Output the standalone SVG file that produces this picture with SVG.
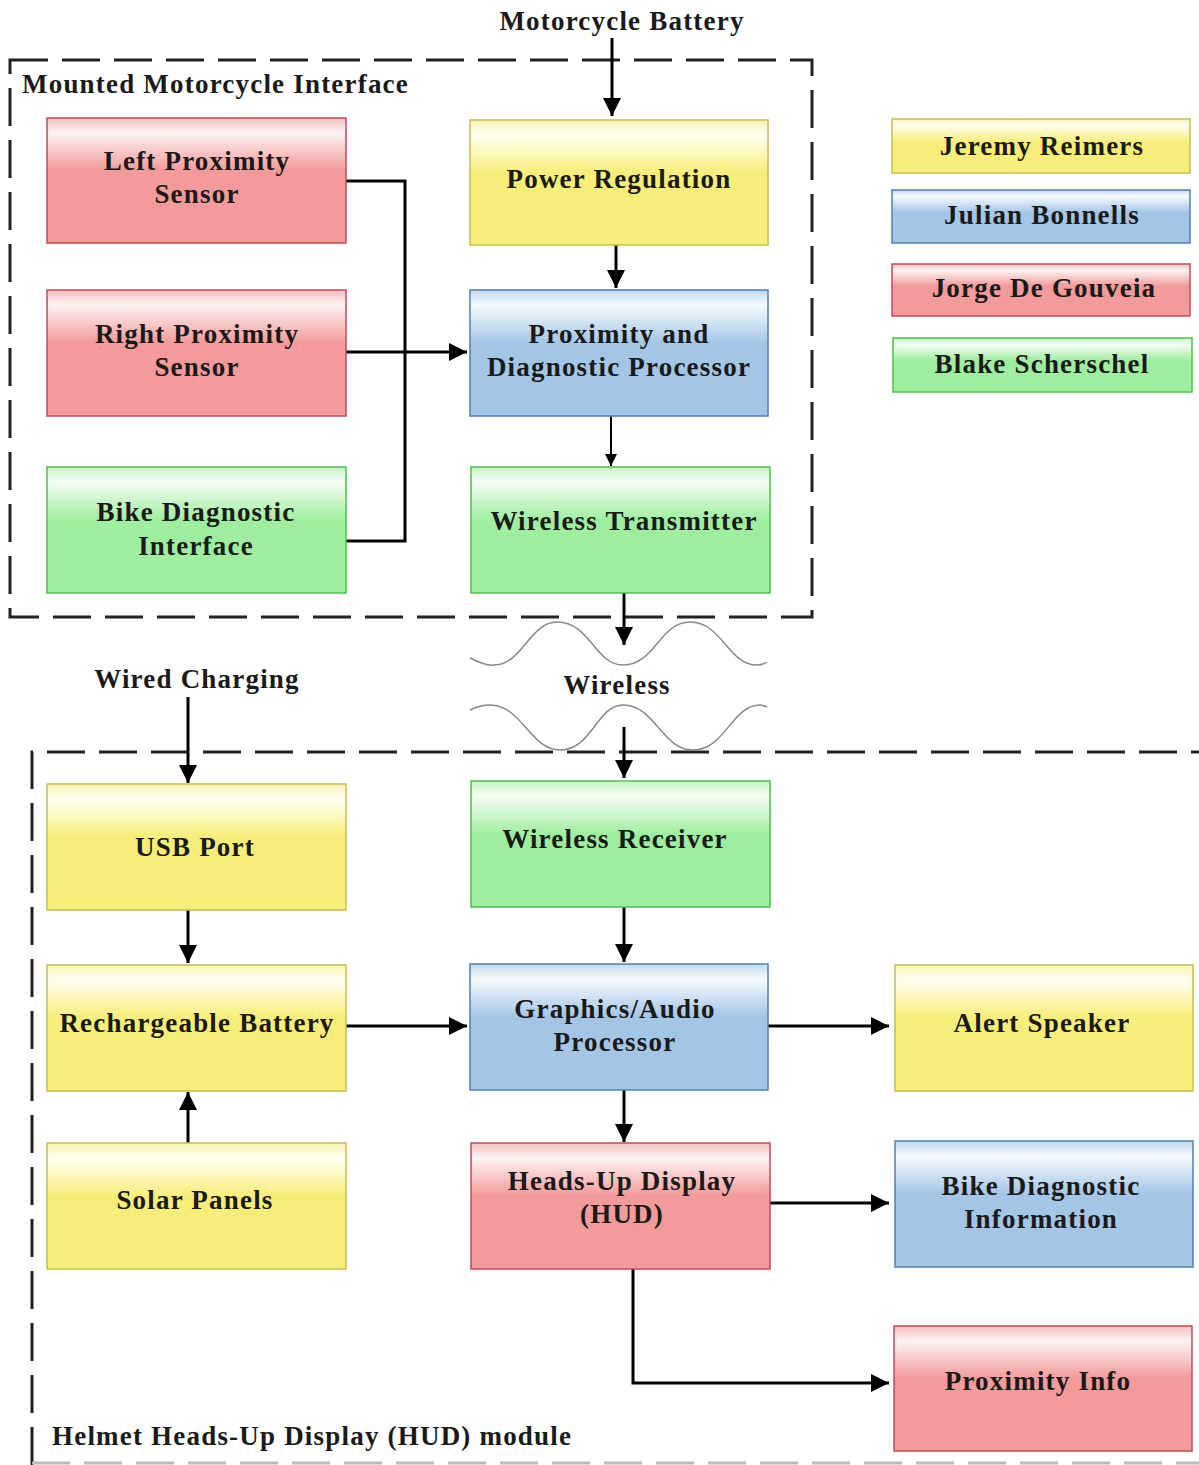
<svg xmlns="http://www.w3.org/2000/svg" width="1199" height="1465" viewBox="0 0 1199 1465">
<defs>
<linearGradient id="gy" x1="0" y1="0" x2="0" y2="1"><stop offset="0" stop-color="#f8f3b0"/><stop offset="0.12" stop-color="#fffff2"/><stop offset="0.42" stop-color="#f7ee7a"/><stop offset="1" stop-color="#f7ee7a"/></linearGradient>
<linearGradient id="gb" x1="0" y1="0" x2="0" y2="1"><stop offset="0" stop-color="#c2d9ee"/><stop offset="0.12" stop-color="#f6fafd"/><stop offset="0.42" stop-color="#a4c6e6"/><stop offset="1" stop-color="#a4c6e6"/></linearGradient>
<linearGradient id="gr" x1="0" y1="0" x2="0" y2="1"><stop offset="0" stop-color="#f4c0c0"/><stop offset="0.12" stop-color="#fdf3f3"/><stop offset="0.42" stop-color="#f39a9a"/><stop offset="1" stop-color="#f39a9a"/></linearGradient>
<linearGradient id="gg" x1="0" y1="0" x2="0" y2="1"><stop offset="0" stop-color="#c8f4c8"/><stop offset="0.12" stop-color="#f5fdf5"/><stop offset="0.42" stop-color="#9fee9f"/><stop offset="1" stop-color="#9fee9f"/></linearGradient>
<marker id="ah" viewBox="0 0 10 10" refX="10" refY="5" markerWidth="7" markerHeight="6" markerUnits="strokeWidth" orient="auto"><path d="M0,0 L10,5 L0,10 z" fill="#000"/></marker>
</defs>
<style>
.y{fill:url(#gy);stroke:#c9bc4e;stroke-width:1.5}
.b{fill:url(#gb);stroke:#4f7fb3;stroke-width:1.5}
.r{fill:url(#gr);stroke:#c24a5a;stroke-width:1.5}
.g{fill:url(#gg);stroke:#4cc04c;stroke-width:1.5}
text{font-family:"Liberation Serif","Times New Roman",serif;font-weight:bold;font-size:27px;fill:#1a1a1a;letter-spacing:1.2px}
.c{text-anchor:middle}
.ln{fill:none;stroke:#000;stroke-width:3}
.a{fill:none;stroke:#000;stroke-width:3;marker-end:url(#ah)}
.dash{fill:none;stroke:#222;stroke-width:3;stroke-dasharray:38,14}
.wave{fill:none;stroke:#888;stroke-width:1.5}
</style>
<rect width="1199" height="1465" fill="#fff"/>

<g id="frames">
<rect x="10" y="60" width="802" height="557" class="dash"/>
<path d="M32,1465 V752 H1199" class="dash"/>
<path d="M32,1463 H1199" class="dash" style="stroke:#bbb"/>
<text x="22" y="93">Mounted Motorcycle Interface</text>
<text x="52" y="1445">Helmet Heads-Up Display (HUD) module</text>
</g>

<g id="labels">
<text class="c" x="622" y="30">Motorcycle Battery</text>
<text class="c" x="197" y="688">Wired Charging</text>
<text class="c" x="617" y="694">Wireless</text>
<path class="wave" d="M470,658 C482,664 488,666 494,665 C522,665 530,622 557,622 C590,622 595,665 623,665 C655,665 660,622 690,622 C722,622 728,665 757,665 C761,665 764,664 767,662"/>
<path class="wave" d="M470,710 C476,707 482,705 490,705 C522,705 530,750 560,750 C592,750 597,705 623,705 C655,705 662,750 693,750 C725,750 732,705 760,705 C763,705 765,706 767,707"/>
</g>

<g id="connectors">
<path class="a" d="M612,38 V116"/>
<path class="a" d="M616,245 V288"/>
<path class="a" d="M611,416 V466" style="stroke-width:2"/>
<path class="ln" d="M346,181 H405 V541 H346"/>
<path class="a" d="M346,352 H467"/>
<path class="a" d="M624,593 V645"/>
<path class="a" d="M624,727 V778"/>
<path class="a" d="M188,697 V783"/>
<path class="a" d="M188,910 V963"/>
<path class="a" d="M188,1143 V1092"/>
<path class="a" d="M346,1026 H467"/>
<path class="a" d="M624,907 V962"/>
<path class="a" d="M768,1026 H889"/>
<path class="a" d="M624,1090 V1142"/>
<path class="a" d="M770,1203 H889"/>
<path class="a" d="M633,1269 V1383 H889"/>
</g>

<g id="left-proximity-sensor"><rect class="r" x="47" y="118" width="299" height="125"/><text class="c" x="197" y="170">Left Proximity</text><text class="c" x="197" y="203">Sensor</text></g>
<g id="right-proximity-sensor"><rect class="r" x="47" y="290" width="299" height="126"/><text class="c" x="197" y="343">Right Proximity</text><text class="c" x="197" y="376">Sensor</text></g>
<g id="bike-diagnostic-interface"><rect class="g" x="47" y="467" width="299" height="126"/><text class="c" x="196" y="521">Bike Diagnostic</text><text class="c" x="196" y="555">Interface</text></g>
<g id="power-regulation"><rect class="y" x="470" y="120" width="298" height="125"/><text class="c" x="619" y="188">Power Regulation</text></g>
<g id="proximity-diagnostic-processor"><rect class="b" x="470" y="290" width="298" height="126"/><text class="c" x="619" y="343">Proximity and</text><text class="c" x="619" y="376">Diagnostic Processor</text></g>
<g id="wireless-transmitter"><rect class="g" x="471" y="467" width="299" height="126"/><text class="c" x="624" y="530">Wireless Transmitter</text></g>

<g id="legend-jeremy"><rect class="y" x="892" y="119" width="298" height="54"/><text class="c" x="1042" y="155">Jeremy Reimers</text></g>
<g id="legend-julian"><rect class="b" x="892" y="190" width="298" height="53"/><text class="c" x="1042" y="224">Julian Bonnells</text></g>
<g id="legend-jorge"><rect class="r" x="892" y="264" width="298" height="52"/><text class="c" x="1044" y="297">Jorge De Gouveia</text></g>
<g id="legend-blake"><rect class="g" x="893" y="338" width="299" height="54"/><text class="c" x="1042" y="373">Blake Scherschel</text></g>

<g id="usb-port"><rect class="y" x="47" y="784" width="299" height="126"/><text class="c" x="195" y="856">USB Port</text></g>
<g id="rechargeable-battery"><rect class="y" x="47" y="965" width="299" height="126"/><text class="c" x="197" y="1032">Rechargeable Battery</text></g>
<g id="solar-panels"><rect class="y" x="47" y="1143" width="299" height="126"/><text class="c" x="195" y="1209">Solar Panels</text></g>
<g id="wireless-receiver"><rect class="g" x="471" y="781" width="299" height="126"/><text class="c" x="615" y="848">Wireless Receiver</text></g>
<g id="graphics-audio-processor"><rect class="b" x="470" y="964" width="298" height="126"/><text class="c" x="615" y="1018">Graphics/Audio</text><text class="c" x="615" y="1051">Processor</text></g>
<g id="heads-up-display"><rect class="r" x="471" y="1143" width="299" height="126"/><text class="c" x="622" y="1190">Heads-Up Display</text><text class="c" x="622" y="1223">(HUD)</text></g>
<g id="alert-speaker"><rect class="y" x="895" y="965" width="298" height="126"/><text class="c" x="1042" y="1032">Alert Speaker</text></g>
<g id="bike-diagnostic-information"><rect class="b" x="895" y="1141" width="298" height="126"/><text class="c" x="1041" y="1195">Bike Diagnostic</text><text class="c" x="1041" y="1228">Information</text></g>
<g id="proximity-info"><rect class="r" x="894" y="1326" width="298" height="125"/><text class="c" x="1038" y="1390">Proximity Info</text></g>
</svg>
